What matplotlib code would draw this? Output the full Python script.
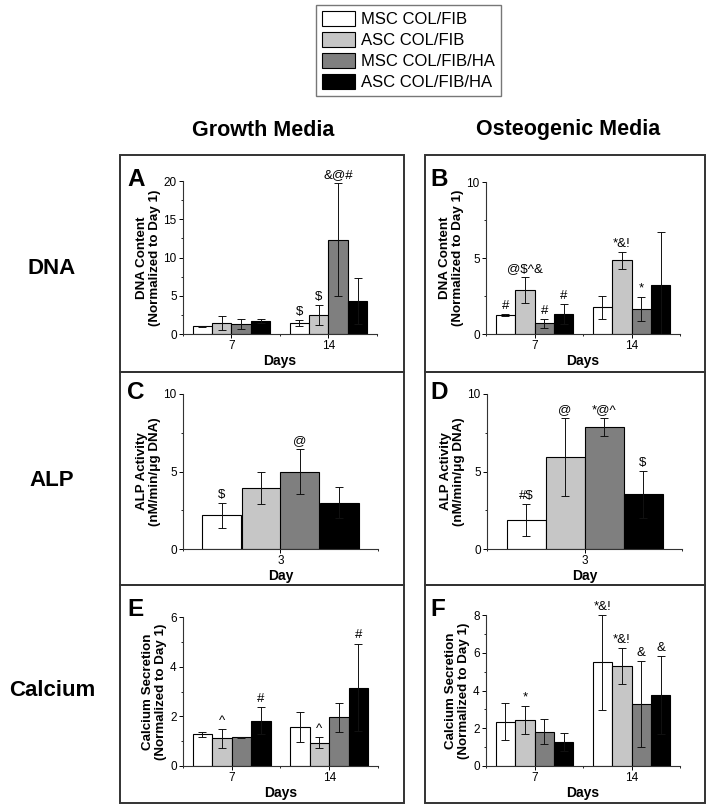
import matplotlib
matplotlib.use("Agg")
import matplotlib.pyplot as plt
import matplotlib.patches as mpatches
from matplotlib.ticker import AutoMinorLocator

plt.rcParams['font.family'] = ['Liberation Sans', 'DejaVu Sans']

W, H = 714, 809

# data (rows = series, columns = time points)
series = ['MSC COL/FIB', 'ASC COL/FIB', 'MSC COL/FIB/HA', 'ASC COL/FIB/HA']
colors = ['white', '#c6c6c6', '#7f7f7f', 'black']

days_two = ['7', '14']
days_one = ['3']

dna_gm = [[1.00, 1.39], [1.43, 2.48], [1.30, 12.35], [1.65, 4.30]]
dna_gm_err = [[0.10, 0.40], [0.88, 1.30], [0.68, 7.40], [0.25, 2.96]]
dna_gm_marks = [['', '$'], ['', '$'], ['', '&@#'], ['', '']]

dna_om = [[1.25, 1.76], [2.90, 4.84], [0.70, 1.65], [1.32, 3.23]]
dna_om_err = [[0.05, 0.76], [0.84, 0.57], [0.31, 0.80], [0.66, 3.47]]
dna_om_marks = [['#', ''], ['@$^&', '*&!'], ['#', '*'], ['#', '']]

alp_gm = [[2.17], [3.93], [5.00], [3.00]]
alp_gm_err = [[0.80], [1.01], [1.46], [1.03]]
alp_gm_marks = [['$'], [''], ['@'], ['']]

alp_om = [[1.89], [5.92], [7.88], [3.52]]
alp_om_err = [[1.03], [2.51], [0.56], [1.50]]
alp_om_marks = [['#$'], ['@'], ['*@^'], ['$']]

ca_gm = [[1.27, 1.58], [1.11, 0.94], [1.15, 1.96], [1.82, 3.16]]
ca_gm_err = [[0.10, 0.60], [0.38, 0.21], [0.02, 0.58], [0.54, 1.77]]
ca_gm_marks = [['', ''], ['^', '^'], ['', ''], ['#', '#']]

ca_om = [[2.35, 5.49], [2.44, 5.30], [1.82, 3.30], [1.27, 3.75]]
ca_om_err = [[0.98, 2.50], [0.75, 0.96], [0.67, 2.28], [0.46, 2.07]]
ca_om_marks = [['', '*&!'], ['*', '*&!'], ['', '&'], ['', '&']]


def fig_rect(x0, y0, x1, y1):
    # pixel box (top-left origin) -> figure fraction [l, b, w, h]
    return [x0 / W, 1 - y1 / H, (x1 - x0) / W, (y1 - y0) / H]


def bar_panel(ax, means, errs, marks, groups, ymax, yticks, ylabel, xlabel):
    n = len(groups)
    for i in range(4):
        xs = [g + 1 + (i - 1.5) * 0.2 for g in range(n)]
        ax.bar(xs, means[i], width=0.2, color=colors[i], edgecolor='black',
               linewidth=0.8, zorder=2)
        ax.errorbar(xs, means[i], yerr=errs[i], fmt='none', ecolor='#111111',
                    elinewidth=0.7, capsize=3, capthick=0.7, zorder=3)
        for x, m, e, s in zip(xs, means[i], errs[i], marks[i]):
            if s:
                ax.annotate(s, (x, m + e), xytext=(0, 1.5), textcoords='offset points',
                            ha='center', va='bottom', fontsize=9.5, annotation_clip=False)
    ax.set_xlim(0.5, n + 0.5)
    ax.set_ylim(0, ymax)
    ax.set_xticks(range(1, n + 1))
    ax.set_xticklabels(groups)
    ax.set_xticks([k + 0.5 for k in range(n + 1)], minor=True)
    ax.set_yticks(yticks)
    ax.yaxis.set_minor_locator(AutoMinorLocator(2))
    ax.tick_params(which='major', direction='out', length=3, width=0.7,
                   labelsize=8.5, pad=1.5)
    ax.tick_params(which='minor', direction='out', length=1.5, width=0.6)
    for s in ['top', 'right']:
        ax.spines[s].set_visible(False)
    for s in ['left', 'bottom']:
        ax.spines[s].set_linewidth(0.8)
        ax.spines[s].set_color('#333333')
    ax.set_ylabel(ylabel, fontsize=9.6, fontweight='bold', labelpad=2, linespacing=1.1)
    ax.set_xlabel(xlabel, fontsize=10, fontweight='bold', labelpad=1)


fig = plt.figure(figsize=(W / 100, H / 100), dpi=100)

# outer panel boxes
for (x0, x1) in [(120, 404), (425, 705)]:
    for (y0, y1) in [(155, 372), (372, 585), (585, 803)]:
        fig.patches.append(mpatches.Rectangle((x0 / W, 1 - y1 / H), (x1 - x0) / W, (y1 - y0) / H,
                                              transform=fig.transFigure, fill=False,
                                              edgecolor='#333333', linewidth=1.4))

dna_label = 'DNA Content\n(Normalized to Day 1)'
alp_label = 'ALP Activity\n(nM/min/μg DNA)'
ca_label = 'Calcium Secretion\n(Normalized to Day 1)'

axA = fig.add_axes(fig_rect(183, 181, 377, 334))
bar_panel(axA, dna_gm, dna_gm_err, dna_gm_marks, days_two, 20, [0, 5, 10, 15, 20], dna_label, 'Days')
axB = fig.add_axes(fig_rect(486, 182, 680, 334))
bar_panel(axB, dna_om, dna_om_err, dna_om_marks, days_two, 10, [0, 5, 10], dna_label, 'Days')
axC = fig.add_axes(fig_rect(183, 394, 378, 549))
bar_panel(axC, alp_gm, alp_gm_err, alp_gm_marks, days_one, 10, [0, 5, 10], alp_label, 'Day')
axD = fig.add_axes(fig_rect(487, 394, 682, 549))
bar_panel(axD, alp_om, alp_om_err, alp_om_marks, days_one, 10, [0, 5, 10], alp_label, 'Day')
axE = fig.add_axes(fig_rect(183, 617, 378, 766))
bar_panel(axE, ca_gm, ca_gm_err, ca_gm_marks, days_two, 6, [0, 2, 4, 6], ca_label, 'Days')
axF = fig.add_axes(fig_rect(486, 615, 680, 766))
bar_panel(axF, ca_om, ca_om_err, ca_om_marks, days_two, 8, [0, 2, 4, 6, 8], ca_label, 'Days')

# panel letters
for letter, x, y in [('A', 127, 186), ('B', 430, 186), ('C', 127, 399),
                     ('D', 430, 399), ('E', 127, 616), ('F', 430, 616)]:
    fig.text(x / W, 1 - y / H, letter, fontsize=17.5, fontweight='bold', va='baseline')

# column headers and row labels
fig.text(263 / W, 1 - 130 / H, 'Growth Media', fontsize=15.5, fontweight='bold', ha='center', va='center')
fig.text(568 / W, 1 - 130 / H, 'Osteogenic Media', fontsize=15.5, fontweight='bold', ha='center', va='center')
for lab, y in [('DNA', 268), ('ALP', 481), ('Calcium', 691)]:
    fig.text(52 / W, 1 - y / H, lab, fontsize=16, fontweight='bold', ha='center', va='center')

handles = [mpatches.Patch(facecolor=c, edgecolor='black', linewidth=0.8) for c in colors]
fig.legend(handles, series, loc='upper left', bbox_to_anchor=(316 / W, 1 - 5 / H),
           fontsize=12, frameon=True, fancybox=False, edgecolor='#555555',
           handlelength=2.0, handleheight=1.0, handletextpad=0.35, labelspacing=0.3,
           borderpad=0.35, borderaxespad=0)

fig.savefig('out.png', dpi=100)
